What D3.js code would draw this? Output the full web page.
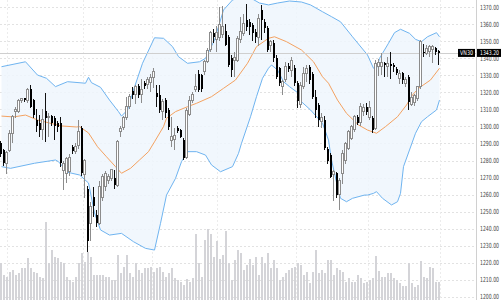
<!DOCTYPE html>
<html>
<head>
<meta charset="utf-8">
<script src="https://cdn.jsdelivr.net/npm/d3@7/dist/d3.min.js"></script>
<style>
    html, body { margin: 0; padding: 0; background: #ffffff; }
    svg { display: block; }
    .axis-label { font-family: "DejaVu Sans", sans-serif; font-size: 7px; fill: #444444; }
    .tag-label  { font-family: "DejaVu Sans", sans-serif; font-size: 6.5px; fill: #ffffff; }
</style>
</head>
<body>
<svg id="chart"></svg>
<script>
/* =========================================================
   Data
   ========================================================= */

const SYMBOL = "VN30";
const LAST_PRICE = 1343.20;

const opens = [
    1290.5, 1286, 1278.5, 1286, 1296, 1308.5, 1309, 1315, 1316.5, 1315.5,
    1322, 1315.5, 1304, 1302, 1298, 1309, 1305, 1306, 1305, 1302,
    1302, 1274, 1272.5, 1273.5, 1288, 1285.5, 1289, 1299, 1272, 1263,
    1243, 1258.5, 1248, 1243, 1258.5, 1264.5, 1268.5, 1269.5, 1269.5, 1265.5,
    1297, 1299.5, 1305, 1311.5, 1321, 1318.5, 1323.5, 1319, 1325.5, 1324.5,
    1326, 1328.5, 1319.5, 1318.5, 1308.7, 1315.5, 1309.7, 1292, 1292.5, 1298.9,
    1297.9, 1292, 1282, 1307, 1315.5, 1322, 1331, 1330, 1332, 1338,
    1345, 1355, 1351, 1352, 1354, 1356, 1352.5, 1340, 1339, 1339,
    1351, 1354.7, 1362.5, 1361.5, 1359.5, 1355.7, 1352, 1368.4, 1361.5, 1357.7,
    1347.8, 1349, 1340, 1334.2, 1323.5, 1327.3, 1335.6, 1333, 1334.2, 1325.3,
    1313, 1323.5, 1331, 1335, 1331, 1317.5, 1312.6, 1303, 1304, 1287,
    1283, 1272, 1272.5, 1260, 1272.5, 1280, 1287, 1293, 1298, 1305.7,
    1302.5, 1308.5, 1311.6, 1305.5, 1305, 1299, 1335.5, 1335, 1337.4, 1335,
    1336.6, 1336, 1333.6, 1328, 1331.2, 1325.5, 1329, 1313, 1314, 1316.5,
    1323.4, 1344, 1343, 1344, 1345, 1345.8, 1344.5
];

const highs = [
    1291.5, 1287, 1285.5, 1298, 1307, 1311.5, 1316, 1317, 1317, 1322.5,
    1324.5, 1316, 1310, 1306.5, 1310, 1319.5, 1308, 1307, 1306, 1303,
    1305.5, 1280, 1282, 1284, 1289, 1290, 1304, 1300, 1281, 1265,
    1255.5, 1264.5, 1251, 1268, 1272, 1274, 1272, 1275, 1274.5, 1292,
    1300, 1306, 1317.5, 1319, 1323, 1324.5, 1325, 1328, 1327, 1329,
    1331, 1334.5, 1324.5, 1324.5, 1316, 1317, 1311, 1305.7, 1299, 1300,
    1298.5, 1293, 1311, 1318, 1320, 1331, 1333, 1331, 1339, 1346,
    1356, 1357, 1359, 1370, 1371, 1360, 1354, 1342, 1344, 1353,
    1364.5, 1366, 1372, 1363, 1361, 1357, 1366, 1371.5, 1363, 1359,
    1351, 1351, 1342, 1335, 1327.5, 1338, 1337, 1340.8, 1336, 1327,
    1326, 1335, 1336, 1336, 1332, 1321.4, 1314, 1308, 1306, 1288,
    1284.5, 1274.4, 1273, 1270, 1286, 1291, 1298, 1301, 1306.5, 1307,
    1314, 1313, 1314, 1315, 1306, 1339, 1339.6, 1343, 1338, 1341,
    1344, 1337, 1335, 1333, 1332, 1329, 1330, 1320, 1319, 1324,
    1351, 1348.6, 1348, 1347.8, 1347.8, 1346.8, 1345
];

const lows = [
    1282, 1276.5, 1272, 1285, 1290, 1305, 1308, 1314, 1314.5, 1314,
    1311, 1305, 1297, 1294, 1292, 1291, 1294, 1300, 1292, 1297,
    1276, 1262.5, 1267, 1271, 1284, 1284, 1287, 1271, 1258, 1226.5,
    1233, 1247, 1241, 1242, 1256, 1262, 1266, 1268, 1263, 1264.5,
    1294, 1298, 1304, 1310, 1316, 1313, 1317, 1314, 1322, 1322,
    1320, 1322.5, 1311.5, 1308, 1303.8, 1305, 1298, 1288, 1286, 1296,
    1293, 1280.5, 1281, 1306, 1314, 1320, 1320, 1320, 1330, 1337,
    1344, 1349, 1344, 1350, 1352, 1347, 1335, 1329, 1329, 1338,
    1349, 1353, 1356, 1354, 1350, 1349, 1347, 1351, 1355, 1344,
    1344, 1338, 1328, 1324, 1318.5, 1326, 1332, 1329.2, 1324, 1311,
    1311, 1322, 1326, 1325, 1316, 1304.8, 1299.5, 1299, 1286, 1278,
    1270, 1256, 1258, 1251, 1266, 1278, 1286, 1292, 1297, 1301,
    1300, 1306, 1307, 1304, 1296, 1298, 1329.8, 1330, 1329, 1329,
    1328, 1332, 1330, 1325, 1325, 1323, 1309.7, 1312, 1312, 1315,
    1322, 1340.7, 1342, 1340.8, 1337, 1342, 1336
];

const closes = [
    1284, 1278.5, 1284.5, 1296, 1306, 1310, 1315.5, 1316.5, 1315.5, 1321.5,
    1311.5, 1306.5, 1300.5, 1298, 1304, 1305, 1306, 1302, 1300, 1299.5,
    1278.5, 1278, 1281, 1282, 1285.5, 1288.5, 1297, 1272.5, 1280, 1232.5,
    1253, 1253, 1243, 1264.5, 1270.5, 1272.5, 1270.5, 1274.5, 1265.5, 1291,
    1299, 1305, 1311.5, 1317.5, 1318.5, 1323.5, 1318.5, 1322, 1323.5, 1327.5,
    1329, 1332.5, 1317.5, 1309.5, 1314.5, 1307.7, 1299.8, 1294, 1294.5, 1297.5,
    1294, 1281.3, 1309.5, 1315.5, 1318.5, 1323.5, 1321.5, 1322, 1338, 1344.5,
    1355, 1352.5, 1355, 1360, 1359, 1348, 1336, 1333, 1340.5, 1351.8,
    1356, 1360.6, 1358.6, 1358.5, 1354.7, 1352.7, 1363.5, 1362.5, 1357.7, 1345,
    1349.8, 1340, 1329, 1325.3, 1326.5, 1335.1, 1333.6, 1338.9, 1325.3, 1315,
    1324, 1331, 1334, 1327.5, 1317.5, 1309.7, 1303.8, 1305, 1287.2, 1280,
    1270.5, 1273.5, 1260, 1268, 1284, 1290, 1296.9, 1299.8, 1305.7, 1301.8,
    1311.5, 1311, 1308.7, 1311, 1298, 1337, 1337.4, 1337.5, 1336, 1337,
    1335.8, 1335, 1331.2, 1331, 1327.3, 1327.5, 1314.5, 1317, 1318, 1323.4,
    1349.8, 1343, 1345.8, 1346.8, 1346.8, 1343.9, 1343.2
];

const volumes = [
    37, 25, 23, 28, 30, 25, 27, 32, 32, 42,
    32, 28, 27, 23, 22, 78, 37, 50, 43, 42,
    38, 37, 23, 20, 18, 23, 37, 47, 38, 48,
    43, 25, 25, 25, 25, 23, 23, 20, 20, 45,
    27, 33, 45, 27, 23, 37, 30, 27, 32, 32,
    33, 28, 32, 33, 28, 23, 27, 32, 22, 20,
    18, 15, 21, 18, 22, 66, 37, 23, 60, 71,
    66, 43, 59, 41, 45, 69, 37, 20, 40, 50,
    47, 30, 35, 41, 35, 43, 25, 43, 37, 47,
    32, 40, 32, 20, 23, 27, 30, 32, 33, 37,
    35, 25, 28, 17, 28, 50, 27, 30, 27, 40,
    40, 25, 32, 30, 28, 18, 22, 18, 18, 25,
    22, 17, 18, 20, 22, 44, 29, 23, 23, 27,
    27, 22, 20, 17, 14, 14, 37, 17, 13, 15,
    39, 23, 22, 33, 32, 18, 18
];

/* Bollinger band, read at selected candle indices */
const upperIdx = [0, 8, 12, 15, 18, 22, 28, 29, 30, 33, 36, 39, 40, 42, 44, 47, 51, 54, 57, 59,
    62, 66, 68, 71, 74, 77, 80, 83, 86, 89, 92, 96, 100, 103, 107, 110, 113, 117, 122, 124,
    125, 126, 129, 131, 133, 136, 138, 140, 142, 145, 146];
const upperBand = [1335.1, 1338.0, 1330.2, 1328.3, 1323.4, 1326.3, 1325.4, 1328.9, 1325.7, 1323.0,
    1315.5, 1308.7, 1306.1, 1309.7, 1321.4, 1337.1, 1352.1, 1351.8, 1346.9, 1341.0,
    1337.1, 1338.0, 1340.0, 1350.8, 1368.4, 1374.3, 1376.0, 1375.5, 1372.5, 1371.4,
    1372.5, 1373.7, 1373.1, 1371.4, 1367.4, 1364.5, 1361.5, 1352.7, 1342.0, 1334.2,
    1334.2, 1340.0, 1348.9, 1355.1, 1357.1, 1354.7, 1351.2, 1349.8, 1352.7, 1355.1, 1352.7];

const middleIdx = [0, 4, 8, 12, 16, 20, 25, 26, 29, 32, 35, 38, 40, 43, 46, 49, 51, 54, 55, 58,
    62, 65, 70, 74, 78, 82, 85, 89, 91, 95, 100, 104, 107, 109, 112, 115, 119, 122, 125, 128,
    132, 135, 137, 139, 143, 146];
const middleBand = [1306.1, 1305.6, 1306.7, 1303.8, 1302.0, 1300.3, 1299.7, 1299.9, 1296.2, 1288.1,
    1282.2, 1276.4, 1272.5, 1275.4, 1280.3, 1285.2, 1291.0, 1299.9, 1304.8, 1308.7,
    1311.6, 1313.6, 1317.5, 1322.4, 1327.3, 1337.1, 1346.9, 1351.8, 1352.7, 1349.8,
    1344.9, 1338.0, 1329.2, 1325.4, 1315.5, 1307.7, 1300.9, 1297.9, 1296.0, 1299.9,
    1305.7, 1312.6, 1318.5, 1322.4, 1327.3, 1334.2];

const lowerIdx = [0, 3, 11, 18, 19, 22, 26, 29, 31, 33, 36, 40, 44, 48, 51, 53, 55, 58, 60, 62,
    65, 68, 70, 73, 77, 79, 80, 83, 85, 87, 89, 90, 92, 94, 96, 99, 100, 103, 107, 109,
    110, 112, 113, 115, 117, 121, 122, 124, 125, 127, 130, 132, 133, 134, 136, 138, 140, 142, 145, 146];
const lowerBand = [1276.4, 1275.4, 1278.4, 1280.3, 1279.3, 1273.1, 1271.5, 1266.8, 1249.2, 1239.2,
    1236.2, 1237.2, 1232.3, 1228.4, 1227.4, 1243.1, 1259.7, 1269.5, 1279.3, 1285.2,
    1285.2, 1283.2, 1277.4, 1273.4, 1276.4, 1284.2, 1290.1, 1305.7, 1317.5, 1328.3,
    1334.2, 1336.1, 1333.2, 1326.3, 1323.4, 1319.5, 1314.5, 1309.7, 1301.9, 1292.0,
    1280.3, 1264.6, 1257.8, 1255.8, 1257.8, 1259.7, 1259.7, 1260.7, 1261.7, 1257.8,
    1253.9, 1255.8, 1260.7, 1276.4, 1286.2, 1296.0, 1302.8, 1305.7, 1309.7, 1315.5];

const priceTicks = d3.range(1200, 1371, 10);
const gridIdx = [2, 27, 50, 72, 98, 122, 146];

/* =========================================================
   Layout
   ========================================================= */

const WIDTH = 501;
const HEIGHT = 300;
const AXIS_X = 476;
const LABEL_W = 19;   // squeeze axis labels into the 25px gutter

const svg = d3.select("#chart")
    .attr("width", WIDTH)
    .attr("height", HEIGHT);

svg.append("defs").append("clipPath")
    .attr("id", "plot-clip")
    .append("rect")
    .attr("x", 0).attr("y", 0)
    .attr("width", AXIS_X).attr("height", HEIGHT);

const x = d3.scaleLinear()
    .domain([0, closes.length - 1])
    .range([1.5, 439.5]);

const y = d3.scaleLinear()
    .domain([1200, 1370])
    .range([296.7, 7.3]);

const yVol = d3.scaleLinear()
    .domain([0, 80])
    .range([300, 220]);

const plot = svg.append("g").attr("clip-path", "url(#plot-clip)");

/* =========================================================
   Grid
   ========================================================= */

plot.append("g")
    .selectAll("line")
    .data(priceTicks)
    .join("line")
    .attr("x1", 0)
    .attr("x2", AXIS_X)
    .attr("y1", d => Math.round(y(d)) + 0.5)
    .attr("y2", d => Math.round(y(d)) + 0.5)
    .attr("stroke", "#e2e2e2")
    .attr("stroke-dasharray", "2,2");

plot.append("g")
    .selectAll("line")
    .data(gridIdx)
    .join("line")
    .attr("x1", d => Math.round(x(d)) + 0.5)
    .attr("x2", d => Math.round(x(d)) + 0.5)
    .attr("y1", 0)
    .attr("y2", HEIGHT)
    .attr("stroke", "#ececec")
    .attr("stroke-dasharray", "2,2");

/* =========================================================
   Volume
   ========================================================= */

plot.append("g")
    .attr("shape-rendering", "crispEdges")
    .selectAll("rect")
    .data(volumes)
    .join("rect")
    .attr("x", (_, i) => x(i) - 1.5)
    .attr("width", 2)
    .attr("y", v => yVol(v))
    .attr("height", v => yVol(0) - yVol(v))
    .attr("fill", "#d4d4d8");

/* =========================================================
   Bollinger band
   ========================================================= */

const upperPts  = upperIdx.map((d, k) => [x(d), y(upperBand[k])]);
const middlePts = middleIdx.map((d, k) => [x(d), y(middleBand[k])]);
const lowerPts  = lowerIdx.map((d, k) => [x(d), y(lowerBand[k])]);

const line = d3.line();

plot.append("path")
    .attr("d", line(upperPts.concat(lowerPts.slice().reverse())) + "Z")
    .attr("fill", "#eef6fd")
    .attr("fill-opacity", 0.85);

[upperPts, lowerPts].forEach(pts => {
    plot.append("path")
        .attr("d", line(pts))
        .attr("fill", "none")
        .attr("stroke", "#6fb4f0")
        .attr("stroke-width", 1);
});

plot.append("path")
    .attr("d", line(middlePts))
    .attr("fill", "none")
    .attr("stroke", "#f4a261")
    .attr("stroke-width", 1);

/* last price line */
plot.append("line")
    .attr("x1", 0)
    .attr("x2", AXIS_X)
    .attr("y1", Math.round(y(LAST_PRICE)) + 0.5)
    .attr("y2", Math.round(y(LAST_PRICE)) + 0.5)
    .attr("stroke", "#cfcfcf");

/* =========================================================
   Candles
   ========================================================= */

const candles = closes.map((c, i) => ({
    i, o: opens[i], h: highs[i], l: lows[i], c,
    up: c >= opens[i]
}));

const cg = plot.append("g").attr("shape-rendering", "crispEdges");

cg.selectAll("line.wick")
    .data(candles)
    .join("line")
    .attr("class", "wick")
    .attr("x1", d => x(d.i) - 1)
    .attr("x2", d => x(d.i) - 1)
    .attr("y1", d => y(d.h))
    .attr("y2", d => y(d.l))
    .attr("stroke", d => d.up ? "#8c8c8c" : "#111111");

cg.selectAll("rect.body")
    .data(candles)
    .join("rect")
    .attr("class", "body")
    .attr("x", d => d.up ? x(d.i) - 2 : x(d.i) - 1.5)
    .attr("width", 2)
    .attr("y", d => y(Math.max(d.o, d.c)))
    .attr("height", d => Math.max(1, Math.abs(y(d.o) - y(d.c))))
    .attr("fill", d => d.up ? "#ffffff" : "#000000")
    .attr("stroke", d => d.up ? "#8c8c8c" : "none");

/* =========================================================
   Price axis
   ========================================================= */

svg.append("line")
    .attr("x1", AXIS_X + 0.5)
    .attr("x2", AXIS_X + 0.5)
    .attr("y1", 0)
    .attr("y2", HEIGHT)
    .attr("stroke", "#d0d0d0");

svg.append("g")
    .selectAll("text")
    .data(priceTicks)
    .join("text")
    .attr("class", "axis-label")
    .attr("x", AXIS_X + 4)
    .attr("y", d => y(d))
    .attr("dy", "0.35em")
    .attr("textLength", LABEL_W)
    .attr("lengthAdjust", "spacingAndGlyphs")
    .text(d3.format(".2f"));

/* price tags */
const tagY = y(LAST_PRICE);

svg.append("rect")
    .attr("x", 458).attr("y", tagY - 4)
    .attr("width", 17).attr("height", 8)
    .attr("fill", "#000000");

svg.append("text")
    .attr("class", "tag-label")
    .attr("x", 460).attr("y", tagY)
    .attr("dy", "0.35em")
    .attr("textLength", 13)
    .attr("lengthAdjust", "spacingAndGlyphs")
    .text(SYMBOL);

svg.append("rect")
    .attr("x", AXIS_X + 1).attr("y", tagY - 4)
    .attr("width", WIDTH - AXIS_X - 1).attr("height", 8)
    .attr("fill", "#000000");

svg.append("text")
    .attr("class", "tag-label")
    .attr("x", AXIS_X + 4).attr("y", tagY)
    .attr("dy", "0.35em")
    .attr("textLength", LABEL_W)
    .attr("lengthAdjust", "spacingAndGlyphs")
    .text(d3.format(".2f")(LAST_PRICE));
</script>
</body>
</html>
